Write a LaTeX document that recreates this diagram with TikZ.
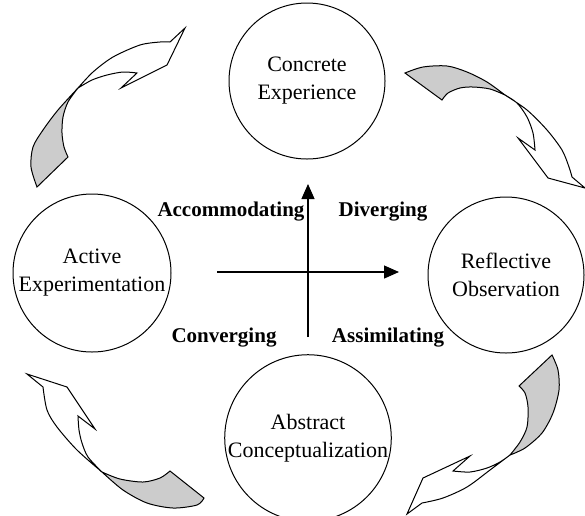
\documentclass[tikz,border=0pt]{standalone}
\usepackage{fontspec}
\setmainfont{Liberation Serif}
\usetikzlibrary{arrows.meta}

\begin{document}
\begin{tikzpicture}[x=1pt,y=-1pt,
    stage/.style={draw,circle,line width=1pt,minimum size=156pt,inner sep=0pt,align=center,font=\fontsize{22}{28}\selectfont},
    quadrant/.style={anchor=base,font=\fontsize{21}{25}\selectfont\bfseries},
    axisarrow/.style={line width=1.2pt,-{Triangle[length=15pt,width=13pt]}},
    twist/.style={draw,line width=1pt,fill=gray!40},
    ribbon/.style={draw,line width=1pt,fill=white}]
    \useasboundingbox (0,0) rectangle (585,515);
    % the four stages
    \node [stage] (ce) at (307,81) {Concrete\\Experience};
    \node [stage] (ro) at (506,275) {Reflective\\Observation};
    \node [stage] (ac) at (308,438) {Abstract\\Conceptualization};
    \node [stage,minimum size=158pt] (ae) at (92,273) {Active\\Experimentation};
    % the two axes
    \coordinate (vbot) at (308,337);
    \coordinate (vtop) at (308,184);
    \coordinate (hleft) at (217,272);
    \coordinate (hright) at (399,272);
    \draw [axisarrow] (vbot) -- (vtop);
    \draw [axisarrow] (hleft) -- (hright);
    % learning styles
    \node [quadrant] (acc) at (231,216) {Accommodating};
    \node [quadrant] (div) at (383,216) {Diverging};
    \node [quadrant] (con) at (224,342) {Converging};
    \node [quadrant] (ass) at (388,342) {Assimilating};
    % top-left arrow
    \draw [twist] plot [smooth] coordinates {(37,187) (31,167) (33,147) (43,130) (58,110) (78,88)}
        -- plot [smooth] coordinates {(78,88) (68,102) (63,117) (62,133) (64,147) (68,157)} -- cycle;
    \draw [ribbon] plot [smooth] coordinates {(78,88) (93,72) (113,57) (140,45) (160,42) (170,42)}
        -- (185,28) -- (167,65) -- (121,88) -- (137,73)
        -- plot [smooth] coordinates {(137,73) (123,72) (107,75) (92,80) (78,88)} -- cycle;
    % top-right arrow
    \draw [twist] plot [smooth] coordinates {(405,73) (423,67) (447,66) (467,72) (487,82) (505,95)}
        -- plot [smooth] coordinates {(505,95) (490,89) (473,87) (460,88) (448,93) (442,100)} -- cycle;
    \draw [ribbon] plot [smooth] coordinates {(505,95) (527,110) (547,130) (562,150) (569,167) (572,177)}
        -- (585,188) -- (548,178) -- (518,138) -- (535,150)
        -- plot [smooth] coordinates {(535,150) (533,133) (527,117) (517,103) (505,95)} -- cycle;
    % bottom-right arrow
    \draw [twist] plot [smooth] coordinates {(552,355) (558,370) (559,390) (553,413) (542,433) (525,448) (510,455)}
        -- plot [smooth] coordinates {(510,455) (520,442) (527,427) (528,407) (525,393) (519,386)} -- cycle;
    \draw [ribbon] plot [smooth] coordinates {(510,455) (490,470) (467,487) (443,498) (422,503)}
        -- (407,514) -- (423,478) -- (470,456) -- (453,471)
        -- plot [smooth] coordinates {(453,471) (470,472) (487,468) (500,462) (510,455)} -- cycle;
    % bottom-left arrow
    \draw [twist] plot [smooth] coordinates {(204,498) (197,505) (173,508) (147,503) (123,490) (102,472)}
        -- plot [smooth] coordinates {(102,472) (120,479) (143,482) (160,478) (170,471)} -- cycle;
    \draw [ribbon] plot [smooth] coordinates {(102,472) (77,450) (57,427) (47,410) (43,387)}
        -- (27,374) -- (67,387) -- (95,429) -- (78,416)
        -- plot [smooth] coordinates {(78,416) (79,430) (82,443) (88,457) (102,472)} -- cycle;
\end{tikzpicture}
\end{document}
